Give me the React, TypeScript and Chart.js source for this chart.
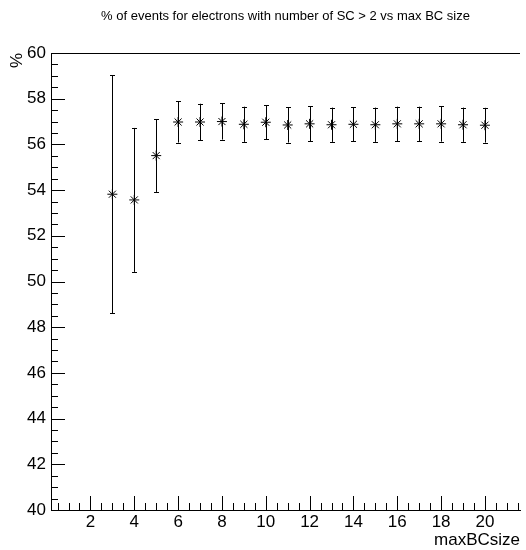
import React, { useEffect, useRef } from "react";
import { Chart, registerables } from "chart.js";

Chart.register(...registerables);

const xValues = [3, 4, 5, 6, 7, 8, 9, 10, 11, 12, 13, 14, 15, 16, 17, 18, 19, 20];
const yValues = [53.82, 53.57, 55.51, 56.98, 56.98, 57.0, 56.88, 56.97, 56.85, 56.9, 56.86, 56.88, 56.86, 56.9, 56.9, 56.9, 56.86, 56.84];
const yErrors = [5.21, 3.15, 1.59, 0.9, 0.8, 0.79, 0.77, 0.75, 0.77, 0.76, 0.75, 0.74, 0.75, 0.75, 0.75, 0.78, 0.75, 0.76];
const xMajorTicks = [2, 4, 6, 8, 10, 12, 14, 16, 18, 20];
const yMajorTicks = [40, 42, 44, 46, 48, 50, 52, 54, 56, 58, 60];
const titleText = "% of events for electrons with number of SC > 2 vs max BC size";
const xTitle = "maxBCsize";
const yTitle = "%";

const FONT = "'Liberation Sans', Arial, Helvetica, sans-serif";

const rootPlugin = {
  id: "rootStyle",
  beforeDatasetsDraw(chart: any) {
    const { ctx } = chart;
    const xs = chart.scales.x;
    const ys = chart.scales.y;
    ctx.save();
    ctx.strokeStyle = "#000";
    ctx.lineWidth = 1;
    for (let i = 0; i < xValues.length; i++) {
      const px = Math.round(xs.getPixelForValue(xValues[i])) + 0.5;
      const top = ys.getPixelForValue(yValues[i] + yErrors[i]);
      const bot = ys.getPixelForValue(yValues[i] - yErrors[i]);
      ctx.beginPath();
      ctx.moveTo(px, top);
      ctx.lineTo(px, bot);
      ctx.moveTo(px - 2.5, Math.round(top) + 0.5);
      ctx.lineTo(px + 2.5, Math.round(top) + 0.5);
      ctx.moveTo(px - 2.5, Math.round(bot) + 0.5);
      ctx.lineTo(px + 2.5, Math.round(bot) + 0.5);
      ctx.stroke();
    }
    ctx.restore();
  },
  afterDraw(chart: any) {
    const { ctx, chartArea } = chart;
    const xs = chart.scales.x;
    const ys = chart.scales.y;
    ctx.save();
    ctx.strokeStyle = "#000";
    ctx.lineWidth = 1;
    ctx.beginPath();
    // top frame line
    ctx.moveTo(chartArea.left, Math.round(chartArea.top) + 0.5);
    ctx.lineTo(chartArea.right, Math.round(chartArea.top) + 0.5);
    // x ticks (inward)
    for (let v = Math.ceil(xs.min * 2) / 2; v <= xs.max; v += 0.5) {
      const px = Math.round(xs.getPixelForValue(v)) + 0.5;
      const len = xMajorTicks.includes(v) ? 14 : 7;
      ctx.moveTo(px, chartArea.bottom);
      ctx.lineTo(px, chartArea.bottom - len);
    }
    // y ticks (inward)
    for (let v = ys.min; v <= ys.max + 1e-9; v += 0.5) {
      const py = Math.round(ys.getPixelForValue(v)) + 0.5;
      const len = yMajorTicks.includes(v) ? 14 : 7;
      ctx.moveTo(chartArea.left, py);
      ctx.lineTo(chartArea.left + len, py);
    }
    ctx.stroke();
    // title
    ctx.fillStyle = "#000";
    ctx.font = `13px ${FONT}`;
    ctx.textAlign = "center";
    ctx.textBaseline = "middle";
    ctx.fillText(titleText, (chartArea.left + chartArea.right) / 2, 16);
    ctx.restore();
  },
};

export default function App() {
  const ref = useRef<HTMLCanvasElement | null>(null);
  useEffect(() => {
    document.body.style.margin = "0";
    const canvas = ref.current!;
    const chart = new Chart(canvas, {
      type: "scatter",
      data: {
        datasets: [
          {
            data: xValues.map((x, i) => ({ x, y: yValues[i] })),
            showLine: false,
            pointStyle: "star",
            pointRadius: 5,
            pointHoverRadius: 5,
            borderColor: "#000",
            backgroundColor: "#000",
            borderWidth: 1,
          },
        ],
      },
      options: {
        animation: false,
        responsive: false,
        devicePixelRatio: 1,
        events: [],
        layout: { padding: { top: 53, left: 0, right: 0, bottom: 0 } },
        plugins: {
          legend: { display: false },
          tooltip: { enabled: false },
          title: { display: false },
        },
        scales: {
          x: {
            type: "linear",
            min: 0.2,
            max: 21.6,
            grid: { display: false, drawTicks: false },
            border: { display: true, color: "#000", width: 1 },
            afterBuildTicks: (s: any) => {
              s.ticks = xMajorTicks.map((v) => ({ value: v }));
            },
            afterFit: (s: any) => {
              s.height = 40;
            },
            ticks: {
              autoSkip: false,
              maxRotation: 0,
              padding: 2,
              color: "#000",
              font: { family: FONT, size: 17 },
              callback: (v: any) => String(v),
            },
            title: {
              display: true,
              text: xTitle,
              align: "end",
              color: "#000",
              font: { family: FONT, size: 17, lineHeight: 1.1 },
              padding: { top: 0, bottom: 0 },
            },
          },
          y: {
            type: "linear",
            min: 40,
            max: 60,
            grid: { display: false, drawTicks: false },
            border: { display: true, color: "#000", width: 1 },
            afterBuildTicks: (s: any) => {
              s.ticks = yMajorTicks.map((v) => ({ value: v }));
            },
            afterFit: (s: any) => {
              s.width = 51;
            },
            ticks: {
              autoSkip: false,
              padding: 5,
              color: "#000",
              font: { family: FONT, size: 17 },
              callback: (v: any) => String(v),
            },
            title: {
              display: true,
              text: yTitle,
              align: "end",
              color: "#000",
              font: { family: FONT, size: 17 },
              padding: { top: 7, bottom: 0 },
            },
          },
        },
      },
      plugins: [rootPlugin],
    } as any);
    return () => chart.destroy();
  }, []);
  return (
    <div style={{ position: "absolute", left: 0, top: 0, width: 526, height: 550, background: "#fff" }}>
      <canvas ref={ref} width={526} height={550} style={{ width: 526, height: 550, display: "block" }} />
    </div>
  );
}
